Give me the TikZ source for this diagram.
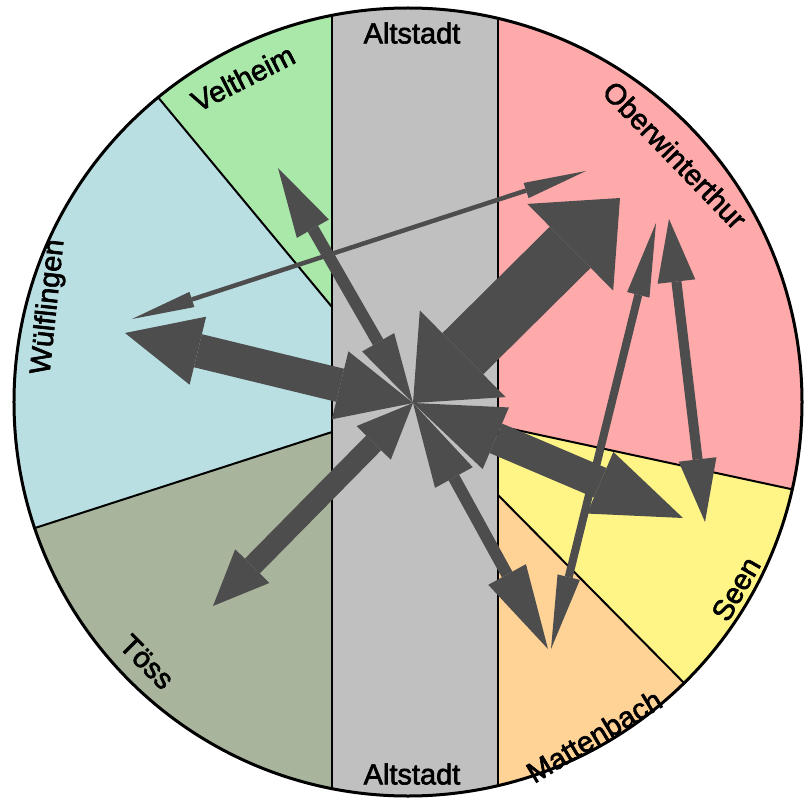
\documentclass[tikz,border=0pt]{standalone}
\usepackage{fontspec}
\setmainfont{Liberation Sans}
\newfontfamily\lblfont{Liberation Sans}[FakeBold=2.2]
\usetikzlibrary{arrows.meta}

\definecolor{ober}{HTML}{FFAAAA}
\definecolor{velt}{HTML}{AAE8AA}
\definecolor{wuelf}{HTML}{B9DFE3}
\definecolor{toess}{HTML}{A8B59C}
\definecolor{matten}{HTML}{FFD296}
\definecolor{seen}{HTML}{FFF587}
\definecolor{alt}{HTML}{C0C0C0}
\definecolor{arrowgray}{HTML}{4D4D4D}

\begin{document}
\begin{tikzpicture}[
    x=1pt, y=1pt,
    border/.style={draw=black, line width=2pt},
    lbl/.style={font=\lblfont\fontsize{29}{34}\selectfont, inner sep=0pt},
    flow/.style n args={3}{
        draw=arrowgray, line width=#1,
        arrows={Triangle[width=#2,length=#3,line width=0pt]-Triangle[width=#2,length=#3,line width=0pt]}
    }
]
\useasboundingbox (-415,-395) rectangle (390,403);

% circle and sector borders
\coordinate (ctr)    at (-7,1);
\coordinate (vw-in)  at (-83,96);
\coordinate (vw-out) at (-423,506);
\coordinate (wt-in)  at (-83,-29);
\coordinate (wt-out) at (-677,-221);
\coordinate (os-in)  at (83,-23);
\coordinate (os-out) at (687,-153);
\coordinate (sm-in)  at (83,-92);
\coordinate (sm-out) at (463,-476);

\begin{scope}
    \clip (ctr) circle[radius=394];
    \fill[wuelf] (-420,-420) rectangle (-83,420);
    \fill[ober]  (83,-420) rectangle (420,420);
    \fill[velt]  (vw-in) -- (vw-out) -- (-83,506) -- cycle;
    \fill[toess] (wt-in) -- (wt-out) -- (-677,-500) -- (-83,-500) -- cycle;
    \fill[seen]  (os-in) -- (os-out) -- (687,-600) -- (83,-600) -- cycle;
    \fill[matten] (sm-in) -- (sm-out) -- (463,-600) -- (83,-600) -- cycle;
    \fill[alt]   (-83,-420) rectangle (83,420);
    \draw[border] (-83,-420) -- (-83,420) (83,-420) -- (83,420);
    \draw[border] (vw-in) -- (vw-out) (wt-in) -- (wt-out)
                  (os-in) -- (os-out) (sm-in) -- (sm-out);
\end{scope}
\draw[line width=3pt] (ctr) circle[radius=394];

% labels
\node[lbl] (alt-top) at (-3,370) {Altstadt};
\node[lbl] (alt-bot) at (-3,-371) {Altstadt};
\node[lbl, rotate=27]  (velt-lbl)   at (-172,325) {Veltheim};
\node[lbl, rotate=84]  (wuelf-lbl)  at (-366,96)  {Wülflingen};
\node[lbl, rotate=-45] (toess-lbl)  at (-268,-259) {Töss};
\node[lbl, rotate=31]  (matten-lbl) at (179,-333) {Mattenbach};
\node[lbl, rotate=60]  (seen-lbl)   at (321,-186) {Seen};
\node[lbl, rotate=-46] (ober-lbl)   at (260,248)  {Oberwinterthur};

% flows
\coordinate (hub)        at (-2,0);
\coordinate (velt-end)   at (-137,235);
\coordinate (wuelf-end)  at (-290,70);
\coordinate (ober-end)   at (205,205);
\coordinate (toess-end)  at (-202,-203);
\coordinate (seen-end)   at (268,-115);
\coordinate (matten-end) at (133,-246);
\coordinate (wo-w) at (-283,84);
\coordinate (wo-o) at (171,232);
\coordinate (om-o) at (241,180);
\coordinate (om-m) at (136,-246);
\coordinate (ose-o) at (254,184);
\coordinate (ose-s) at (290,-119);

\draw[flow={12pt}{37pt}{70pt}]   (hub) -- (velt-end);
\draw[flow={34pt}{70pt}{75pt}]   (hub) -- (wuelf-end);
\draw[flow={58pt}{122pt}{70pt}]  (hub) -- (ober-end);
\draw[flow={21pt}{48pt}{56pt}]   (hub) -- (toess-end);
\draw[flow={32pt}{67pt}{90pt}]   (hub) -- (seen-end);
\draw[flow={12pt}{43pt}{85pt}]   (hub) -- (matten-end);
\draw[flow={4.5pt}{16pt}{63pt}]  (wo-w) -- (wo-o);
\draw[flow={8pt}{23pt}{74pt}]    (om-o) -- (om-m);
\draw[flow={10pt}{38pt}{63pt}]   (ose-o) -- (ose-s);
\end{tikzpicture}
\end{document}
